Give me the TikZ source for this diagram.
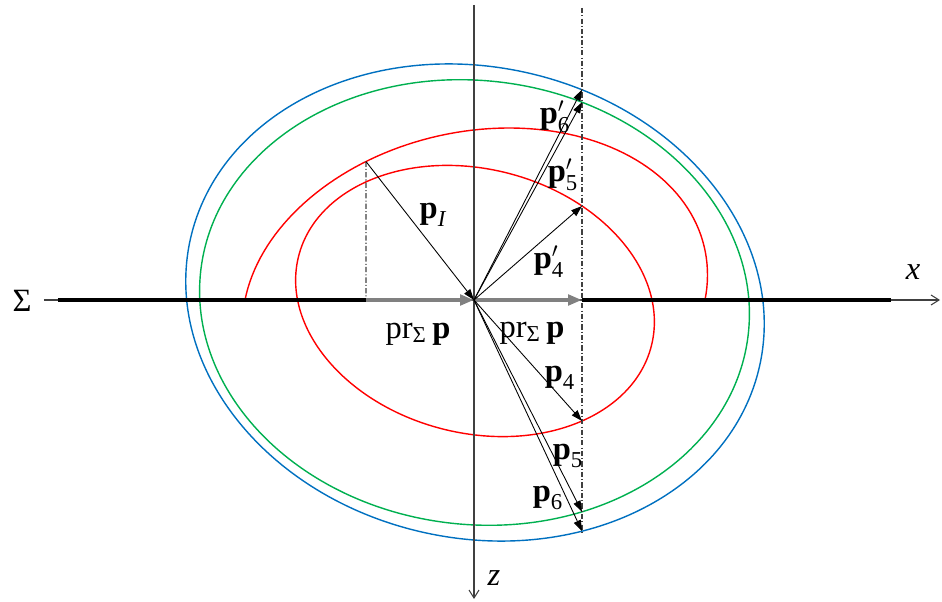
\documentclass[tikz,border=0pt]{standalone}
\usepackage{amsmath}
\usepackage{fontspec}
\setmainfont{Liberation Serif}
\usetikzlibrary{arrows.meta,intersections}
\definecolor{ellblue}{RGB}{0,112,192}
\definecolor{ellgreen}{RGB}{0,176,80}
\definecolor{ellred}{RGB}{255,0,0}
\definecolor{axisgray}{RGB}{64,64,64}
\definecolor{prgray}{RGB}{128,128,128}
\newcommand{\vp}{\textbf{p}}

\begin{document}
\begin{tikzpicture}[
x=0.02cm, y=0.02cm,
font=\fontsize{18.5}{21}\selectfont,
axis/.style={axisgray, line width=0.6pt, -{Straight Barb[length=1.6mm,width=2mm]}},
guide/.style={axisgray, line width=0.6pt, dash pattern=on 3pt off 1.2pt on 0.6pt off 1.2pt},
sigmabar/.style={black, line width=2.6pt},
prarrow/.style={-{Triangle[length=2.8mm,width=2.1mm]}, line width=2.3pt, prgray},
vec/.style={-{Triangle[length=2.2mm,width=1.5mm]}, line width=0.5pt, black},
ell/.style={line width=0.8pt}
]
\useasboundingbox (-474,-301) rectangle (468,300);

\coordinate (O) at (0,0);
\coordinate (Pl) at (-108,0);
\coordinate (Pr) at (108,0);
\coordinate (Sl) at (-416,0);
\coordinate (Sr) at (417,0);

\draw[ell, ellblue, name path=blue] (1,-2.5) ellipse [x radius=291.6, y radius=235.6, rotate=-12.5];
\draw[ell, ellgreen, name path=green] (0.5,-2.5) ellipse [x radius=275.6, y radius=221.9, rotate=-6.9];
\draw[ell, ellred, name path=inner] (1,-1) ellipse [x radius=182, y radius=132, rotate=-14.3];
\draw[ell, ellred, name path=outer] plot[domain=0:180, samples=90]
  ({1+230*cos(\x)+34*sin(\x)}, {172*sin(\x)});

\path[name path=rline] (108,300) -- (108,-300);
\path[name path=lline] (-108,300) -- (-108,0);
\path[name intersections={of=blue and rline, sort by=rline, by={t6,b6}}];
\path[name intersections={of=green and rline, sort by=rline, by={t5,b5}}];
\path[name intersections={of=inner and rline, sort by=rline, by={t4,b4}}];
\path[name intersections={of=outer and lline, by={I}}];

\draw[axis] (-430,0) -- (466,0);
\draw[axis] (0,295) -- (0,-299);
\draw[guide] (108,292) -- (108,-235);
\draw[guide] (I) -- (Pl);

\draw[sigmabar] (Sl) -- (Pl);
\draw[sigmabar] (Pr) -- (Sr);
\draw[prarrow] (Pl) -- (O);
\draw[prarrow] (O) -- (Pr);

\draw[vec] (I) -- (O);
\draw[vec] (O) -- (t4);
\draw[vec] (O) -- (t5);
\draw[vec] (O) -- (t6);
\draw[vec] (O) -- (b4);
\draw[vec] (O) -- (b5);
\draw[vec] (O) -- (b6);

\node (sigma) at (-452,-1) {Σ};
\node (xlbl) at (439,28) {\textit{x}};
\node (zlbl) at (20,-278) {\textit{z}};
\node (pI) at (-41,85) {$\vp_{\textit{I}}$};
\node (prl) at (-56,-34) {pr\textsubscript{Σ}\,\vp};
\node (prr) at (58,-33) {pr\textsubscript{Σ}\,\vp};
\node (p4p) at (75,38) {$\vp'_{\text{4}}$};
\node (p5p) at (89,125) {$\vp'_{\text{5}}$};
\node (p6p) at (81,183) {$\vp'_{\text{6}}$};
\node (p4) at (86,-78) {$\vp_{\text{4}}$};
\node (p5) at (94,-156) {$\vp_{\text{5}}$};
\node (p6) at (74,-198) {$\vp_{\text{6}}$};
\end{tikzpicture}
\end{document}
